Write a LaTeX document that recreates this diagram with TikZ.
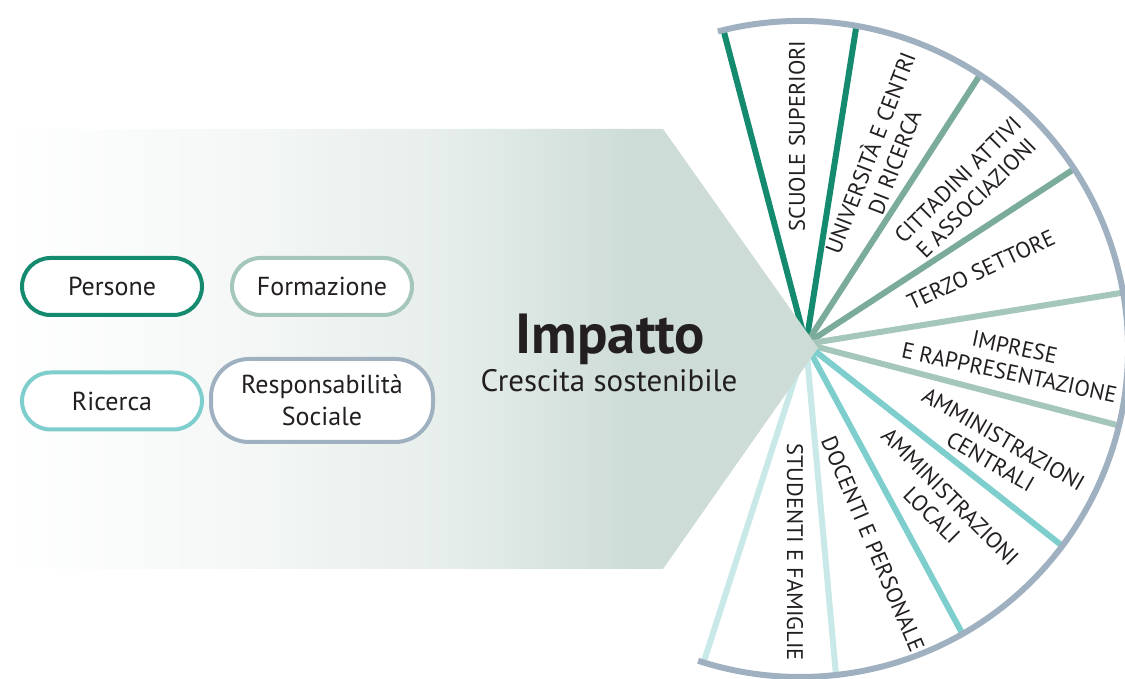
\documentclass[tikz,border=0pt]{standalone}
\usepackage{fontspec}
\setmainfont{PT Sans}
\usetikzlibrary{calc}
\definecolor{cdark}{HTML}{148A6F}
\definecolor{cmid}{HTML}{7BAC9B}
\definecolor{clight}{HTML}{A5C6BA}
\definecolor{cteal}{HTML}{7ECECE}
\definecolor{cpale}{HTML}{C9E8E8}
\definecolor{carc}{HTML}{9FB1C0}
\definecolor{pent}{HTML}{CDDCD6}
\definecolor{ctext}{HTML}{231F20}
\colorlet{gA}{pent!20!white}
\colorlet{gB}{pent!50!white}
\pgfdeclarehorizontalshading{impgrad}{100bp}{color(0bp)=(white); color(25bp)=(white); color(39bp)=(gA); color(52.5bp)=(gB); color(64bp)=(pent); color(100bp)=(pent)}
\begin{document}
\begin{tikzpicture}[x=1pt,y=1pt,
  pill/.style={draw, line width=4pt, fill=white, minimum width=180pt, minimum height=57pt,
    rounded corners=28.5pt, font=\fontsize{26}{32}\selectfont, text=ctext, inner sep=0pt, align=center},
  ray/.style={line width=6pt},
  lab/.style={font=\fontsize{22.5}{26}\selectfont, text=ctext, align=center, inner sep=0pt}]
\useasboundingbox (0,0) rectangle (1125,679);
\coordinate (C) at (800,330);
\coordinate (H) at (806,335);
% rays
\foreach \a/\c in {103.5/cdark, 80.1/cdark, 56.7/cmid, 33.3/cmid, 9.9/clight, -13.5/clight, -36.9/cteal, -60.3/cteal, -83.7/cpale, -107.1/cpale}
  \draw[ray, draw=\c] (H) -- ($(C)+(\a:328)$);
% outer arc
\draw[line width=6pt, draw=carc] ($(C)+(104.5:328)$) arc[start angle=104.5, end angle=-108.1, radius=328];
% pentagon
\shade[shading=impgrad] (0,110) -- (663,110) -- (818,331) -- (663,550) -- (0,550) -- cycle;
% titles
\node[anchor=base, font=\bfseries\fontsize{56.5}{62}\selectfont, text=ctext] (imp) at (610.5,325) {Impatto};
\node[anchor=base, font=\fontsize{31}{36}\selectfont, text=ctext] (cres) at (609,287) {Crescita sostenibile};
% pills
\node[pill, draw=cdark] (pers) at (112,392.5) {Persone};
\node[pill, draw=clight] (form) at (322,392.5) {Formazione};
\node[pill, draw=cteal] (ric) at (112,278) {Ricerca};
\node[pill, draw=carc, minimum width=222pt, minimum height=83pt, rounded corners=38pt] (resp) at (322,278.5) {Responsabilità\\Sociale};
% sector labels
\node[lab, rotate=90] (s1) at (797,543) {SCUOLE SUPERIORI};
\node[lab, rotate=69] (s2) at (881,522) {UNIVERSITÀ E CENTRI\\DI RICERCA};
\node[lab, rotate=45] (s3) at (967,490) {CITTADINI ATTIVI\\E ASSOCIAZIONI};
\node[lab, rotate=25] (s4) at (981,409) {TERZO SETTORE};
\node[lab, rotate=-12] (s5) at (1012,319) {IMPRESE\\E RAPPRESENTAZIONE};
\node[lab, rotate=-30] (s6) at (997,228.5) {AMMINISTRAZIONI\\CENTRALI};
\node[lab, rotate=-45] (s7) at (941,173) {AMMINISTRAZIONI\\LOCALI};
\node[lab, rotate=-67] (s8) at (873,135) {DOCENTI E PERSONALE};
\node[lab, rotate=-90] (s9) at (795,127) {STUDENTI E FAMIGLIE};
\end{tikzpicture}
\end{document}
